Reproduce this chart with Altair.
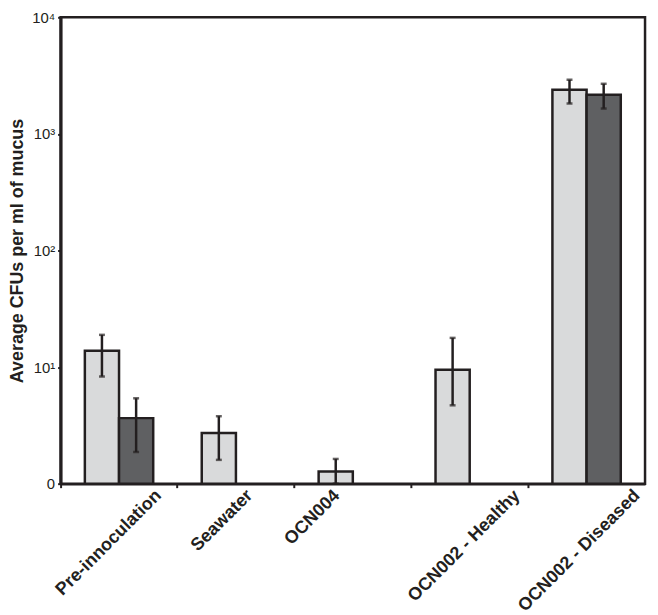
import altair as alt
import pandas as pd

groups = ["Pre-innoculation", "Seawater", "OCN004", "OCN002 - Healthy", "OCN002 - Diseased"]
series_names = ["Series 1", "Series 2"]

light_mean = [13.8, 2.72, 1.27, 9.5, 2390]
light_low = [8.3, 1.6, 1.0, 4.7, 1820]
light_high = [18.9, 3.79, 1.63, 17.8, 2910]

dark_mean = [3.65, None, None, None, 2170]
dark_low = [1.87, None, None, None, 1650]
dark_high = [5.4, None, None, None, 2690]

rows = []
for i, g in enumerate(groups):
    rows.append({"group": g, "series": series_names[0], "mean": light_mean[i],
                 "low": light_low[i], "high": light_high[i]})
    if dark_mean[i] is not None:
        rows.append({"group": g, "series": series_names[1], "mean": dark_mean[i],
                     "low": dark_low[i], "high": dark_high[i]})
df = pd.DataFrame(rows)

INK = "#231f20"
FONT = "Liberation Sans"

x_scale = alt.Scale(domain=groups, paddingInner=0, paddingOuter=0)
xoff = alt.XOffset("series:N", scale=alt.Scale(domain=series_names, paddingInner=0, paddingOuter=0.71))
y_scale = alt.Scale(type="log", domain=[1, 10000], nice=False)
y_axis = alt.Axis(
    title="Average CFUs per ml of mucus",
    values=[1, 10, 100, 1000, 10000],
    labelExpr="datum.value == 1 ? '0' : datum.value == 10 ? '10\u00b9' : datum.value == 100 ? '10\u00b2' : datum.value == 1000 ? '10\u00b3' : '10\u2074'",
    labelFont=FONT, labelFontSize=15, labelColor=INK, labelPadding=3,
    tickSize=3, tickWidth=2, tickColor=INK,
    domainColor=INK, domainWidth=3,
    titleFont=FONT, titleFontSize=18, titleFontWeight="bold", titleColor=INK, titlePadding=5,
    grid=False,
)

bars = alt.Chart(df).mark_bar(stroke=INK, strokeWidth=2.5, fillOpacity=1).encode(
    x=alt.X("group:N", sort=groups, scale=x_scale,
            axis=alt.Axis(orient="bottom", bandPosition=0, labels=False, ticks=True, tickSize=4,
                          tickWidth=2, tickColor=INK, domain=True, domainWidth=2.5,
                          domainColor=INK, title=None, grid=False)),
    xOffset=xoff,
    y=alt.Y("mean:Q", scale=y_scale, axis=y_axis),
    y2=alt.datum(1),
    color=alt.Color("series:N", scale=alt.Scale(domain=series_names, range=["#d9dadb", "#5f6062"]),
                    legend=None),
)

label_offset = ("datum.value == 'Pre-innoculation' ? 40 : datum.value == 'Seawater' ? 14 : "
                "datum.value == 'OCN004' ? -16 : datum.value == 'OCN002 - Healthy' ? 48 : 51")

err = alt.Chart(df).mark_rule(color=INK, strokeWidth=2.5).encode(
    x=alt.X("group:N", sort=groups, scale=x_scale,
            axis=alt.Axis(orient="bottom", labels=True, ticks=False, domain=False, title=None,
                          labelAngle=-45, labelAlign="right", labelBaseline="middle",
                          labelFont=FONT, labelFontSize=18, labelFontWeight="bold",
                          labelColor=INK, labelPadding=9,
                          labelOffset=alt.ExprRef(expr=label_offset), grid=False)),
    xOffset=xoff,
    y=alt.Y("low:Q", scale=y_scale, axis=y_axis),
    y2="high:Q",
)

cap_hi = alt.Chart(df).mark_tick(color=INK, orient="horizontal", size=6, thickness=2.5).encode(
    x=alt.X("group:N", sort=groups, scale=x_scale, axis=None),
    xOffset=xoff,
    y=alt.Y("high:Q", scale=y_scale, axis=y_axis),
)
cap_lo = alt.Chart(df).mark_tick(color=INK, orient="horizontal", size=6, thickness=2.5).encode(
    x=alt.X("group:N", sort=groups, scale=x_scale, axis=None),
    xOffset=xoff,
    y=alt.Y("low:Q", scale=y_scale, axis=y_axis),
)

chart = alt.layer(bars, err, cap_hi, cap_lo).resolve_axis(x="independent").properties(
    width=589, height=470,
    padding={"left": 0, "top": 0, "right": 5, "bottom": 2},
).configure_view(stroke=INK, strokeWidth=2.5)

chart.save("out.html", embed_options={"renderer": "svg", "actions": False})
